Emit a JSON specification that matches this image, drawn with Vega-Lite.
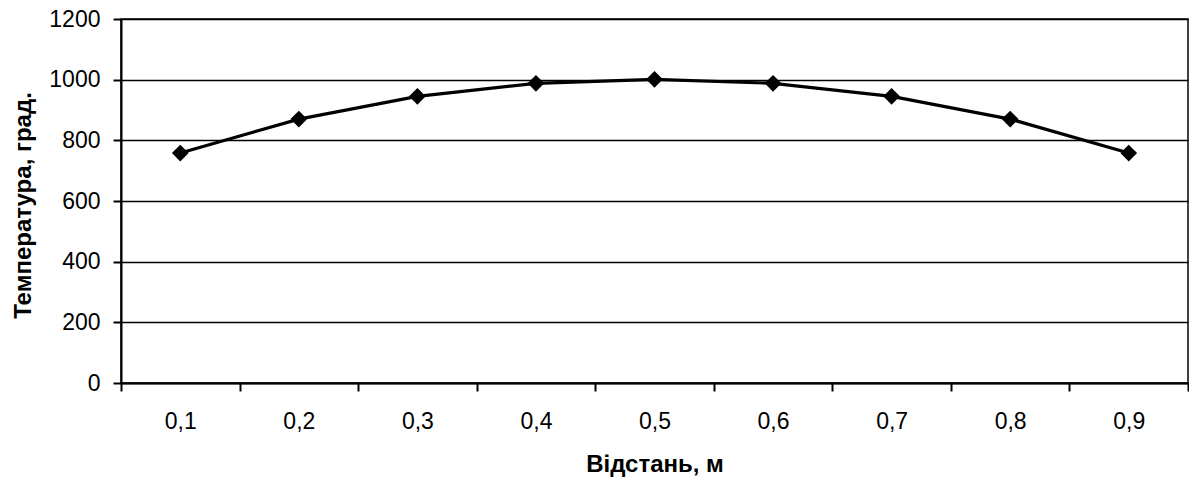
{
  "$schema": "https://vega.github.io/schema/vega-lite/v6.json",
  "width": 1067,
  "height": 364,
  "autosize": {"type": "none"},
  "padding": {"left": 121, "top": 19, "right": 1, "bottom": 94},
  "background": "white",
  "config": {
    "font": "Liberation Sans",
    "view": {"stroke": "black", "strokeWidth": 1.5}
  },
  "data": {
    "values": [
      {"d": "0,1", "t": 758},
      {"d": "0,2", "t": 870},
      {"d": "0,3", "t": 945},
      {"d": "0,4", "t": 988},
      {"d": "0,5", "t": 1001},
      {"d": "0,6", "t": 988},
      {"d": "0,7", "t": 945},
      {"d": "0,8", "t": 870},
      {"d": "0,9", "t": 758}
    ]
  },
  "encoding": {
    "x": {
      "field": "d",
      "type": "ordinal",
      "bandPosition": 0.5,
      "scale": {"type": "band", "paddingInner": 0, "paddingOuter": 0},
      "axis": {
        "title": "Відстань, м",
        "titleFont": "Liberation Sans",
        "titleFontSize": 24,
        "titleFontWeight": "bold",
        "titleColor": "black",
        "titleBaseline": "alphabetic",
        "titleY": 88,
        "labelAngle": 0,
        "labelFontSize": 23,
        "labelColor": "black",
        "labelBaseline": "alphabetic",
        "labelPadding": 37,
        "tickBand": "extent",
        "tickSize": 8,
        "tickWidth": 2,
        "tickColor": "black",
        "domainColor": "black",
        "domainWidth": 2,
        "grid": false
      }
    },
    "y": {
      "field": "t",
      "type": "quantitative",
      "scale": {"domain": [0, 1200], "nice": false},
      "axis": {
        "title": "Температура, град.",
        "titleFont": "Liberation Sans",
        "titleFontSize": 24,
        "titleFontWeight": "bold",
        "titleColor": "black",
        "titleBaseline": "alphabetic",
        "titleX": -91,
        "titleY": 186,
        "values": [0, 200, 400, 600, 800, 1000, 1200],
        "format": "d",
        "labelFontSize": 23,
        "labelColor": "black",
        "labelPadding": 13,
        "tickSize": 8,
        "tickWidth": 2,
        "tickColor": "black",
        "domainColor": "black",
        "domainWidth": 2,
        "grid": true,
        "gridColor": "black",
        "gridWidth": 1.5,
        "gridOpacity": 1
      }
    }
  },
  "layer": [
    {"mark": {"type": "line", "color": "black", "strokeWidth": 3.2}},
    {"mark": {"type": "point", "shape": "diamond", "filled": true, "color": "black", "opacity": 1, "size": 280}}
  ]
}
